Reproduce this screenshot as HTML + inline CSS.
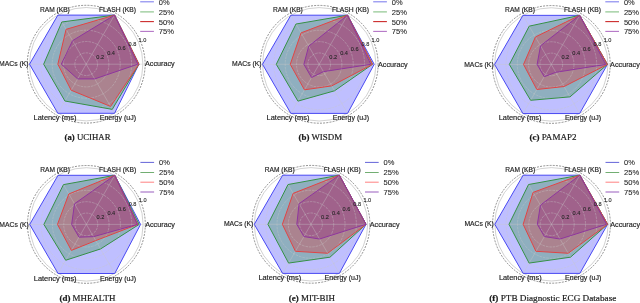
<!DOCTYPE html>
<html><head><meta charset="utf-8"><style>
html,body{margin:0;padding:0;background:#fff;width:640px;height:303px;overflow:hidden}
svg{display:block;will-change:transform}
.al{font-family:"Liberation Sans",sans-serif;font-size:7px;fill:#262626;stroke:#262626;stroke-width:0.18}
.rt{font-family:"Liberation Sans",sans-serif;font-size:5.6px;fill:#262626;text-anchor:middle;stroke:#262626;stroke-width:0.1}
.lg{font-family:"Liberation Sans",sans-serif;font-size:7.3px;fill:#262626;stroke:#262626;stroke-width:0.08}
.cap{font-family:"Liberation Serif",serif;font-size:9.2px;fill:#1a1a1a;stroke:#1a1a1a;stroke-width:0.2}
</style></head><body>
<svg width="640" height="303" viewBox="0 0 640 303">
<polygon points="138.93,64.2 114.55,15.1 57.85,15.1 29.5,64.2 57.85,113.3 114.55,113.3" fill="#0000ff" fill-opacity="0.25" stroke="none"/>
<polygon points="138.93,64.2 114.55,15.1 61.82,21.97 43.67,64.2 64.94,101.03 112.28,109.38" fill="#008000" fill-opacity="0.25" stroke="none"/>
<polygon points="138.93,64.2 114.55,15.1 66.07,29.34 57.85,64.2 71.17,90.22 110.58,106.43" fill="#ff0000" fill-opacity="0.25" stroke="none"/>
<polygon points="137.8,64.2 114.55,15.1 72.59,40.63 61.25,64.2 77.69,78.93 94.71,78.93" fill="#800080" fill-opacity="0.25" stroke="none"/>
<circle cx="86.2" cy="64.2" r="11.34" fill="none" stroke="#c8c8c8" stroke-opacity="0.55" stroke-width="0.7" stroke-dasharray="2.6 0.9"/>
<circle cx="86.2" cy="64.2" r="22.68" fill="none" stroke="#c8c8c8" stroke-opacity="0.55" stroke-width="0.7" stroke-dasharray="2.6 0.9"/>
<circle cx="86.2" cy="64.2" r="34.02" fill="none" stroke="#c8c8c8" stroke-opacity="0.55" stroke-width="0.7" stroke-dasharray="2.6 0.9"/>
<circle cx="86.2" cy="64.2" r="45.36" fill="none" stroke="#c8c8c8" stroke-opacity="0.55" stroke-width="0.7" stroke-dasharray="2.6 0.9"/>
<line x1="86.2" y1="64.2" x2="142.9" y2="64.2" stroke="#c8c8c8" stroke-opacity="0.55" stroke-width="0.7"/>
<line x1="86.2" y1="64.2" x2="114.55" y2="15.1" stroke="#c8c8c8" stroke-opacity="0.55" stroke-width="0.7"/>
<line x1="86.2" y1="64.2" x2="57.85" y2="15.1" stroke="#c8c8c8" stroke-opacity="0.55" stroke-width="0.7"/>
<line x1="86.2" y1="64.2" x2="29.5" y2="64.2" stroke="#c8c8c8" stroke-opacity="0.55" stroke-width="0.7"/>
<line x1="86.2" y1="64.2" x2="57.85" y2="113.3" stroke="#c8c8c8" stroke-opacity="0.55" stroke-width="0.7"/>
<line x1="86.2" y1="64.2" x2="114.55" y2="113.3" stroke="#c8c8c8" stroke-opacity="0.55" stroke-width="0.7"/>
<circle cx="86.2" cy="64.2" r="56.7" fill="none" stroke="#b4b4b4" stroke-width="0.6"/>
<circle cx="86.2" cy="64.2" r="58.9" fill="none" stroke="#4a4a4a" stroke-width="0.6" stroke-dasharray="2 1.2"/>
<polygon points="138.93,64.2 114.55,15.1 57.85,15.1 29.5,64.2 57.85,113.3 114.55,113.3" fill="none" stroke="#4848f2" stroke-width="1"/>
<polygon points="138.93,64.2 114.55,15.1 61.82,21.97 43.67,64.2 64.94,101.03 112.28,109.38" fill="none" stroke="#359045" stroke-width="1"/>
<polygon points="138.93,64.2 114.55,15.1 66.07,29.34 57.85,64.2 71.17,90.22 110.58,106.43" fill="none" stroke="#e04444" stroke-width="1"/>
<polygon points="137.8,64.2 114.55,15.1 72.59,40.63 61.25,64.2 77.69,78.93 94.71,78.93" fill="none" stroke="#8e359e" stroke-width="1"/>
<text x="100.2" y="58.9" class="rt">0.2</text>
<text x="111.1" y="54.6" class="rt">0.4</text>
<text x="121.7" y="50.4" class="rt">0.6</text>
<text x="132.4" y="46" class="rt">0.8</text>
<text x="142.5" y="41.8" class="rt">1.0</text>
<text x="54.9" y="11.6" class="al" text-anchor="middle" textLength="29.8" lengthAdjust="spacingAndGlyphs">RAM (KB)</text>
<text x="117.45" y="11.6" class="al" text-anchor="middle" textLength="37.1" lengthAdjust="spacingAndGlyphs">FLASH (KB)</text>
<text x="28.6" y="66.3" class="al" text-anchor="end" textLength="29.5" lengthAdjust="spacingAndGlyphs">MACs (K)</text>
<text x="145" y="66.4" class="al" textLength="29.7" lengthAdjust="spacingAndGlyphs">Accuracy</text>
<text x="55" y="119.8" class="al" text-anchor="middle" textLength="42.8" lengthAdjust="spacingAndGlyphs">Latency (ms)</text>
<text x="117.9" y="119.8" class="al" text-anchor="middle" textLength="36.2" lengthAdjust="spacingAndGlyphs">Energy (uJ)</text>
<line x1="140.2" y1="1.8" x2="153.9" y2="1.8" stroke="#8282ee" stroke-width="1.1"/>
<text x="158.8" y="4.8" class="lg" textLength="10.8" lengthAdjust="spacingAndGlyphs">0%</text>
<line x1="140.2" y1="11.9" x2="153.9" y2="11.9" stroke="#84c084" stroke-width="1.1"/>
<text x="158.8" y="14.9" class="lg" textLength="15.2" lengthAdjust="spacingAndGlyphs">25%</text>
<line x1="140.2" y1="21.6" x2="153.9" y2="21.6" stroke="#cc2a2a" stroke-width="1.1"/>
<text x="158.8" y="24.6" class="lg" textLength="15.2" lengthAdjust="spacingAndGlyphs">50%</text>
<line x1="140.2" y1="31.4" x2="153.9" y2="31.4" stroke="#b474c6" stroke-width="1.1"/>
<text x="158.8" y="34.4" class="lg" textLength="15.2" lengthAdjust="spacingAndGlyphs">75%</text>
<text x="64.5" y="140.1" class="cap" textLength="46" lengthAdjust="spacingAndGlyphs"><tspan font-weight="bold">(a)</tspan> UCIHAR</text>
<polygon points="374.2,64.3 347.55,15.2 290.85,15.2 262.5,64.3 290.85,113.4 347.55,113.4" fill="#0000ff" fill-opacity="0.25" stroke="none"/>
<polygon points="372.5,64.3 347.55,15.2 295.95,24.04 276.28,64.3 297.94,101.13 334.51,90.82" fill="#008000" fill-opacity="0.25" stroke="none"/>
<polygon points="372.5,64.3 347.55,15.2 301.06,32.87 290.28,64.3 304.46,89.83 331.67,85.91" fill="#ff0000" fill-opacity="0.25" stroke="none"/>
<polygon points="370.8,64.3 347.55,15.2 308.71,46.13 303.89,64.3 311.55,77.56 323.45,71.67" fill="#800080" fill-opacity="0.25" stroke="none"/>
<circle cx="319.2" cy="64.3" r="11.34" fill="none" stroke="#c8c8c8" stroke-opacity="0.55" stroke-width="0.7" stroke-dasharray="2.6 0.9"/>
<circle cx="319.2" cy="64.3" r="22.68" fill="none" stroke="#c8c8c8" stroke-opacity="0.55" stroke-width="0.7" stroke-dasharray="2.6 0.9"/>
<circle cx="319.2" cy="64.3" r="34.02" fill="none" stroke="#c8c8c8" stroke-opacity="0.55" stroke-width="0.7" stroke-dasharray="2.6 0.9"/>
<circle cx="319.2" cy="64.3" r="45.36" fill="none" stroke="#c8c8c8" stroke-opacity="0.55" stroke-width="0.7" stroke-dasharray="2.6 0.9"/>
<line x1="319.2" y1="64.3" x2="375.9" y2="64.3" stroke="#c8c8c8" stroke-opacity="0.55" stroke-width="0.7"/>
<line x1="319.2" y1="64.3" x2="347.55" y2="15.2" stroke="#c8c8c8" stroke-opacity="0.55" stroke-width="0.7"/>
<line x1="319.2" y1="64.3" x2="290.85" y2="15.2" stroke="#c8c8c8" stroke-opacity="0.55" stroke-width="0.7"/>
<line x1="319.2" y1="64.3" x2="262.5" y2="64.3" stroke="#c8c8c8" stroke-opacity="0.55" stroke-width="0.7"/>
<line x1="319.2" y1="64.3" x2="290.85" y2="113.4" stroke="#c8c8c8" stroke-opacity="0.55" stroke-width="0.7"/>
<line x1="319.2" y1="64.3" x2="347.55" y2="113.4" stroke="#c8c8c8" stroke-opacity="0.55" stroke-width="0.7"/>
<circle cx="319.2" cy="64.3" r="56.7" fill="none" stroke="#b4b4b4" stroke-width="0.6"/>
<circle cx="319.2" cy="64.3" r="58.9" fill="none" stroke="#4a4a4a" stroke-width="0.6" stroke-dasharray="2 1.2"/>
<polygon points="374.2,64.3 347.55,15.2 290.85,15.2 262.5,64.3 290.85,113.4 347.55,113.4" fill="none" stroke="#4848f2" stroke-width="1"/>
<polygon points="372.5,64.3 347.55,15.2 295.95,24.04 276.28,64.3 297.94,101.13 334.51,90.82" fill="none" stroke="#359045" stroke-width="1"/>
<polygon points="372.5,64.3 347.55,15.2 301.06,32.87 290.28,64.3 304.46,89.83 331.67,85.91" fill="none" stroke="#e04444" stroke-width="1"/>
<polygon points="370.8,64.3 347.55,15.2 308.71,46.13 303.89,64.3 311.55,77.56 323.45,71.67" fill="none" stroke="#8e359e" stroke-width="1"/>
<text x="333.2" y="59" class="rt">0.2</text>
<text x="344.1" y="54.7" class="rt">0.4</text>
<text x="354.7" y="50.5" class="rt">0.6</text>
<text x="365.4" y="46.1" class="rt">0.8</text>
<text x="375.5" y="41.9" class="rt">1.0</text>
<text x="287.9" y="11.7" class="al" text-anchor="middle" textLength="29.8" lengthAdjust="spacingAndGlyphs">RAM (KB)</text>
<text x="350.45" y="11.7" class="al" text-anchor="middle" textLength="37.1" lengthAdjust="spacingAndGlyphs">FLASH (KB)</text>
<text x="261.6" y="66.4" class="al" text-anchor="end" textLength="29.5" lengthAdjust="spacingAndGlyphs">MACs (K)</text>
<text x="378" y="66.5" class="al" textLength="29.7" lengthAdjust="spacingAndGlyphs">Accuracy</text>
<text x="288" y="119.9" class="al" text-anchor="middle" textLength="42.8" lengthAdjust="spacingAndGlyphs">Latency (ms)</text>
<text x="350.9" y="119.9" class="al" text-anchor="middle" textLength="36.2" lengthAdjust="spacingAndGlyphs">Energy (uJ)</text>
<line x1="373.2" y1="1.8" x2="386.9" y2="1.8" stroke="#8282ee" stroke-width="1.1"/>
<text x="391.8" y="4.8" class="lg" textLength="10.8" lengthAdjust="spacingAndGlyphs">0%</text>
<line x1="373.2" y1="11.9" x2="386.9" y2="11.9" stroke="#84c084" stroke-width="1.1"/>
<text x="391.8" y="14.9" class="lg" textLength="15.2" lengthAdjust="spacingAndGlyphs">25%</text>
<line x1="373.2" y1="21.6" x2="386.9" y2="21.6" stroke="#cc2a2a" stroke-width="1.1"/>
<text x="391.8" y="24.6" class="lg" textLength="15.2" lengthAdjust="spacingAndGlyphs">50%</text>
<line x1="373.2" y1="31.4" x2="386.9" y2="31.4" stroke="#b474c6" stroke-width="1.1"/>
<text x="391.8" y="34.4" class="lg" textLength="15.2" lengthAdjust="spacingAndGlyphs">75%</text>
<text x="298.5" y="140.1" class="cap" textLength="43.6" lengthAdjust="spacingAndGlyphs"><tspan font-weight="bold">(b)</tspan> WISDM</text>
<polygon points="607.43,64.45 579.65,15.35 522.95,15.35 494.6,64.45 522.95,113.55 579.65,113.55" fill="#0000ff" fill-opacity="0.25" stroke="none"/>
<polygon points="607.43,64.45 579.65,15.35 529.19,26.15 509.34,64.45 530.6,100.3 570.01,96.86" fill="#008000" fill-opacity="0.25" stroke="none"/>
<polygon points="607.43,64.45 579.65,15.35 535.42,36.95 523.52,64.45 536.84,89.49 564.06,86.55" fill="#ff0000" fill-opacity="0.25" stroke="none"/>
<polygon points="605.73,64.45 579.65,15.35 540.53,45.79 537.12,64.45 544.21,76.73 555.84,72.31" fill="#800080" fill-opacity="0.25" stroke="none"/>
<circle cx="551.3" cy="64.45" r="11.34" fill="none" stroke="#c8c8c8" stroke-opacity="0.55" stroke-width="0.7" stroke-dasharray="2.6 0.9"/>
<circle cx="551.3" cy="64.45" r="22.68" fill="none" stroke="#c8c8c8" stroke-opacity="0.55" stroke-width="0.7" stroke-dasharray="2.6 0.9"/>
<circle cx="551.3" cy="64.45" r="34.02" fill="none" stroke="#c8c8c8" stroke-opacity="0.55" stroke-width="0.7" stroke-dasharray="2.6 0.9"/>
<circle cx="551.3" cy="64.45" r="45.36" fill="none" stroke="#c8c8c8" stroke-opacity="0.55" stroke-width="0.7" stroke-dasharray="2.6 0.9"/>
<line x1="551.3" y1="64.45" x2="608" y2="64.45" stroke="#c8c8c8" stroke-opacity="0.55" stroke-width="0.7"/>
<line x1="551.3" y1="64.45" x2="579.65" y2="15.35" stroke="#c8c8c8" stroke-opacity="0.55" stroke-width="0.7"/>
<line x1="551.3" y1="64.45" x2="522.95" y2="15.35" stroke="#c8c8c8" stroke-opacity="0.55" stroke-width="0.7"/>
<line x1="551.3" y1="64.45" x2="494.6" y2="64.45" stroke="#c8c8c8" stroke-opacity="0.55" stroke-width="0.7"/>
<line x1="551.3" y1="64.45" x2="522.95" y2="113.55" stroke="#c8c8c8" stroke-opacity="0.55" stroke-width="0.7"/>
<line x1="551.3" y1="64.45" x2="579.65" y2="113.55" stroke="#c8c8c8" stroke-opacity="0.55" stroke-width="0.7"/>
<circle cx="551.3" cy="64.45" r="56.7" fill="none" stroke="#b4b4b4" stroke-width="0.6"/>
<circle cx="551.3" cy="64.45" r="58.9" fill="none" stroke="#4a4a4a" stroke-width="0.6" stroke-dasharray="2 1.2"/>
<polygon points="607.43,64.45 579.65,15.35 522.95,15.35 494.6,64.45 522.95,113.55 579.65,113.55" fill="none" stroke="#4848f2" stroke-width="1"/>
<polygon points="607.43,64.45 579.65,15.35 529.19,26.15 509.34,64.45 530.6,100.3 570.01,96.86" fill="none" stroke="#359045" stroke-width="1"/>
<polygon points="607.43,64.45 579.65,15.35 535.42,36.95 523.52,64.45 536.84,89.49 564.06,86.55" fill="none" stroke="#e04444" stroke-width="1"/>
<polygon points="605.73,64.45 579.65,15.35 540.53,45.79 537.12,64.45 544.21,76.73 555.84,72.31" fill="none" stroke="#8e359e" stroke-width="1"/>
<text x="565.3" y="59.15" class="rt">0.2</text>
<text x="576.2" y="54.85" class="rt">0.4</text>
<text x="586.8" y="50.65" class="rt">0.6</text>
<text x="597.5" y="46.25" class="rt">0.8</text>
<text x="607.6" y="42.05" class="rt">1.0</text>
<text x="520" y="11.85" class="al" text-anchor="middle" textLength="29.8" lengthAdjust="spacingAndGlyphs">RAM (KB)</text>
<text x="582.55" y="11.85" class="al" text-anchor="middle" textLength="37.1" lengthAdjust="spacingAndGlyphs">FLASH (KB)</text>
<text x="493.7" y="66.55" class="al" text-anchor="end" textLength="29.5" lengthAdjust="spacingAndGlyphs">MACs (K)</text>
<text x="610.1" y="66.65" class="al" textLength="29.7" lengthAdjust="spacingAndGlyphs">Accuracy</text>
<text x="520.1" y="120.05" class="al" text-anchor="middle" textLength="42.8" lengthAdjust="spacingAndGlyphs">Latency (ms)</text>
<text x="583" y="120.05" class="al" text-anchor="middle" textLength="36.2" lengthAdjust="spacingAndGlyphs">Energy (uJ)</text>
<line x1="605.3" y1="1.8" x2="619" y2="1.8" stroke="#8282ee" stroke-width="1.1"/>
<text x="623.9" y="4.8" class="lg" textLength="10.8" lengthAdjust="spacingAndGlyphs">0%</text>
<line x1="605.3" y1="11.9" x2="619" y2="11.9" stroke="#84c084" stroke-width="1.1"/>
<text x="623.9" y="14.9" class="lg" textLength="15.2" lengthAdjust="spacingAndGlyphs">25%</text>
<line x1="605.3" y1="21.6" x2="619" y2="21.6" stroke="#cc2a2a" stroke-width="1.1"/>
<text x="623.9" y="24.6" class="lg" textLength="15.2" lengthAdjust="spacingAndGlyphs">50%</text>
<line x1="605.3" y1="31.4" x2="619" y2="31.4" stroke="#b474c6" stroke-width="1.1"/>
<text x="623.9" y="34.4" class="lg" textLength="15.2" lengthAdjust="spacingAndGlyphs">75%</text>
<text x="529.4" y="140.1" class="cap" textLength="47.1" lengthAdjust="spacingAndGlyphs"><tspan font-weight="bold">(c)</tspan> PAMAP2</text>
<polygon points="140.55,224.4 114.75,175.3 58.05,175.3 29.7,224.4 58.05,273.5 114.75,273.5" fill="#0000ff" fill-opacity="0.25" stroke="none"/>
<polygon points="139.13,224.4 114.75,175.3 63.44,184.63 43.88,224.4 65.7,260.25 100.58,248.95" fill="#008000" fill-opacity="0.25" stroke="none"/>
<polygon points="137.71,224.4 114.75,175.3 68.82,193.96 57.48,224.4 71.37,250.42 95.76,240.6" fill="#ff0000" fill-opacity="0.25" stroke="none"/>
<polygon points="137.43,224.4 114.75,175.3 74.49,203.78 71.66,224.4 79.03,237.17 93.49,236.68" fill="#800080" fill-opacity="0.25" stroke="none"/>
<circle cx="86.4" cy="224.4" r="11.34" fill="none" stroke="#c8c8c8" stroke-opacity="0.55" stroke-width="0.7" stroke-dasharray="2.6 0.9"/>
<circle cx="86.4" cy="224.4" r="22.68" fill="none" stroke="#c8c8c8" stroke-opacity="0.55" stroke-width="0.7" stroke-dasharray="2.6 0.9"/>
<circle cx="86.4" cy="224.4" r="34.02" fill="none" stroke="#c8c8c8" stroke-opacity="0.55" stroke-width="0.7" stroke-dasharray="2.6 0.9"/>
<circle cx="86.4" cy="224.4" r="45.36" fill="none" stroke="#c8c8c8" stroke-opacity="0.55" stroke-width="0.7" stroke-dasharray="2.6 0.9"/>
<line x1="86.4" y1="224.4" x2="143.1" y2="224.4" stroke="#c8c8c8" stroke-opacity="0.55" stroke-width="0.7"/>
<line x1="86.4" y1="224.4" x2="114.75" y2="175.3" stroke="#c8c8c8" stroke-opacity="0.55" stroke-width="0.7"/>
<line x1="86.4" y1="224.4" x2="58.05" y2="175.3" stroke="#c8c8c8" stroke-opacity="0.55" stroke-width="0.7"/>
<line x1="86.4" y1="224.4" x2="29.7" y2="224.4" stroke="#c8c8c8" stroke-opacity="0.55" stroke-width="0.7"/>
<line x1="86.4" y1="224.4" x2="58.05" y2="273.5" stroke="#c8c8c8" stroke-opacity="0.55" stroke-width="0.7"/>
<line x1="86.4" y1="224.4" x2="114.75" y2="273.5" stroke="#c8c8c8" stroke-opacity="0.55" stroke-width="0.7"/>
<circle cx="86.4" cy="224.4" r="56.7" fill="none" stroke="#b4b4b4" stroke-width="0.6"/>
<circle cx="86.4" cy="224.4" r="58.9" fill="none" stroke="#4a4a4a" stroke-width="0.6" stroke-dasharray="2 1.2"/>
<polygon points="140.55,224.4 114.75,175.3 58.05,175.3 29.7,224.4 58.05,273.5 114.75,273.5" fill="none" stroke="#4848f2" stroke-width="1"/>
<polygon points="139.13,224.4 114.75,175.3 63.44,184.63 43.88,224.4 65.7,260.25 100.58,248.95" fill="none" stroke="#359045" stroke-width="1"/>
<polygon points="137.71,224.4 114.75,175.3 68.82,193.96 57.48,224.4 71.37,250.42 95.76,240.6" fill="none" stroke="#e04444" stroke-width="1"/>
<polygon points="137.43,224.4 114.75,175.3 74.49,203.78 71.66,224.4 79.03,237.17 93.49,236.68" fill="none" stroke="#8e359e" stroke-width="1"/>
<text x="100.4" y="219.1" class="rt">0.2</text>
<text x="111.3" y="214.8" class="rt">0.4</text>
<text x="121.9" y="210.6" class="rt">0.6</text>
<text x="132.6" y="206.2" class="rt">0.8</text>
<text x="142.7" y="202" class="rt">1.0</text>
<text x="55.1" y="171.8" class="al" text-anchor="middle" textLength="29.8" lengthAdjust="spacingAndGlyphs">RAM (KB)</text>
<text x="117.65" y="171.8" class="al" text-anchor="middle" textLength="37.1" lengthAdjust="spacingAndGlyphs">FLASH (KB)</text>
<text x="28.8" y="226.5" class="al" text-anchor="end" textLength="29.5" lengthAdjust="spacingAndGlyphs">MACs (K)</text>
<text x="145.2" y="226.6" class="al" textLength="29.7" lengthAdjust="spacingAndGlyphs">Accuracy</text>
<text x="55.2" y="280.5" class="al" text-anchor="middle" textLength="42.8" lengthAdjust="spacingAndGlyphs">Latency (ms)</text>
<text x="118.1" y="280.5" class="al" text-anchor="middle" textLength="36.2" lengthAdjust="spacingAndGlyphs">Energy (uJ)</text>
<line x1="140.4" y1="162.4" x2="154.1" y2="162.4" stroke="#5c5cd6" stroke-width="0.95"/>
<text x="159" y="165" class="lg" textLength="10.8" lengthAdjust="spacingAndGlyphs">0%</text>
<line x1="140.4" y1="172.5" x2="154.1" y2="172.5" stroke="#6aaa6a" stroke-width="0.95"/>
<text x="159" y="175.1" class="lg" textLength="15.2" lengthAdjust="spacingAndGlyphs">25%</text>
<line x1="140.4" y1="182.2" x2="154.1" y2="182.2" stroke="#ff7a7a" stroke-width="0.95"/>
<text x="159" y="184.8" class="lg" textLength="15.2" lengthAdjust="spacingAndGlyphs">50%</text>
<line x1="140.4" y1="192" x2="154.1" y2="192" stroke="#9455bb" stroke-width="0.95"/>
<text x="159" y="194.6" class="lg" textLength="15.2" lengthAdjust="spacingAndGlyphs">75%</text>
<text x="59.5" y="300.5" class="cap" textLength="55.9" lengthAdjust="spacingAndGlyphs"><tspan font-weight="bold">(d)</tspan> MHEALTH</text>
<polygon points="366,224.3 339.35,175.2 282.65,175.2 254.3,224.3 282.65,273.4 339.35,273.4" fill="#0000ff" fill-opacity="0.25" stroke="none"/>
<polygon points="366,224.3 339.35,175.2 288.04,184.53 267.91,224.3 288.6,263.09 329.99,257.2" fill="#008000" fill-opacity="0.25" stroke="none"/>
<polygon points="366,224.3 339.35,175.2 293.14,193.36 282.37,224.3 295.41,251.31 327.73,253.27" fill="#ff0000" fill-opacity="0.25" stroke="none"/>
<polygon points="366,224.3 339.35,175.2 299.09,203.68 296.82,224.3 303.91,236.58 319.5,239.03" fill="#800080" fill-opacity="0.25" stroke="none"/>
<circle cx="311" cy="224.3" r="11.34" fill="none" stroke="#c8c8c8" stroke-opacity="0.55" stroke-width="0.7" stroke-dasharray="2.6 0.9"/>
<circle cx="311" cy="224.3" r="22.68" fill="none" stroke="#c8c8c8" stroke-opacity="0.55" stroke-width="0.7" stroke-dasharray="2.6 0.9"/>
<circle cx="311" cy="224.3" r="34.02" fill="none" stroke="#c8c8c8" stroke-opacity="0.55" stroke-width="0.7" stroke-dasharray="2.6 0.9"/>
<circle cx="311" cy="224.3" r="45.36" fill="none" stroke="#c8c8c8" stroke-opacity="0.55" stroke-width="0.7" stroke-dasharray="2.6 0.9"/>
<line x1="311" y1="224.3" x2="367.7" y2="224.3" stroke="#c8c8c8" stroke-opacity="0.55" stroke-width="0.7"/>
<line x1="311" y1="224.3" x2="339.35" y2="175.2" stroke="#c8c8c8" stroke-opacity="0.55" stroke-width="0.7"/>
<line x1="311" y1="224.3" x2="282.65" y2="175.2" stroke="#c8c8c8" stroke-opacity="0.55" stroke-width="0.7"/>
<line x1="311" y1="224.3" x2="254.3" y2="224.3" stroke="#c8c8c8" stroke-opacity="0.55" stroke-width="0.7"/>
<line x1="311" y1="224.3" x2="282.65" y2="273.4" stroke="#c8c8c8" stroke-opacity="0.55" stroke-width="0.7"/>
<line x1="311" y1="224.3" x2="339.35" y2="273.4" stroke="#c8c8c8" stroke-opacity="0.55" stroke-width="0.7"/>
<circle cx="311" cy="224.3" r="56.7" fill="none" stroke="#b4b4b4" stroke-width="0.6"/>
<circle cx="311" cy="224.3" r="58.9" fill="none" stroke="#4a4a4a" stroke-width="0.6" stroke-dasharray="2 1.2"/>
<polygon points="366,224.3 339.35,175.2 282.65,175.2 254.3,224.3 282.65,273.4 339.35,273.4" fill="none" stroke="#4848f2" stroke-width="1"/>
<polygon points="366,224.3 339.35,175.2 288.04,184.53 267.91,224.3 288.6,263.09 329.99,257.2" fill="none" stroke="#359045" stroke-width="1"/>
<polygon points="366,224.3 339.35,175.2 293.14,193.36 282.37,224.3 295.41,251.31 327.73,253.27" fill="none" stroke="#e04444" stroke-width="1"/>
<polygon points="366,224.3 339.35,175.2 299.09,203.68 296.82,224.3 303.91,236.58 319.5,239.03" fill="none" stroke="#8e359e" stroke-width="1"/>
<text x="325" y="219" class="rt">0.2</text>
<text x="335.9" y="214.7" class="rt">0.4</text>
<text x="346.5" y="210.5" class="rt">0.6</text>
<text x="357.2" y="206.1" class="rt">0.8</text>
<text x="367.3" y="201.9" class="rt">1.0</text>
<text x="279.7" y="171.7" class="al" text-anchor="middle" textLength="29.8" lengthAdjust="spacingAndGlyphs">RAM (KB)</text>
<text x="342.25" y="171.7" class="al" text-anchor="middle" textLength="37.1" lengthAdjust="spacingAndGlyphs">FLASH (KB)</text>
<text x="253.4" y="226.4" class="al" text-anchor="end" textLength="29.5" lengthAdjust="spacingAndGlyphs">MACs (K)</text>
<text x="369.8" y="226.5" class="al" textLength="29.7" lengthAdjust="spacingAndGlyphs">Accuracy</text>
<text x="279.8" y="280.4" class="al" text-anchor="middle" textLength="42.8" lengthAdjust="spacingAndGlyphs">Latency (ms)</text>
<text x="342.7" y="280.4" class="al" text-anchor="middle" textLength="36.2" lengthAdjust="spacingAndGlyphs">Energy (uJ)</text>
<line x1="365" y1="162.4" x2="378.7" y2="162.4" stroke="#5c5cd6" stroke-width="0.95"/>
<text x="383.6" y="165" class="lg" textLength="10.8" lengthAdjust="spacingAndGlyphs">0%</text>
<line x1="365" y1="172.5" x2="378.7" y2="172.5" stroke="#6aaa6a" stroke-width="0.95"/>
<text x="383.6" y="175.1" class="lg" textLength="15.2" lengthAdjust="spacingAndGlyphs">25%</text>
<line x1="365" y1="182.2" x2="378.7" y2="182.2" stroke="#ff7a7a" stroke-width="0.95"/>
<text x="383.6" y="184.8" class="lg" textLength="15.2" lengthAdjust="spacingAndGlyphs">50%</text>
<line x1="365" y1="192" x2="378.7" y2="192" stroke="#9455bb" stroke-width="0.95"/>
<text x="383.6" y="194.6" class="lg" textLength="15.2" lengthAdjust="spacingAndGlyphs">75%</text>
<text x="288.8" y="300.5" class="cap" textLength="46.1" lengthAdjust="spacingAndGlyphs"><tspan font-weight="bold">(e)</tspan> MIT-BIH</text>
<polygon points="607.63,224.3 579.85,175.2 523.15,175.2 494.8,224.3 523.15,273.4 579.85,273.4" fill="#0000ff" fill-opacity="0.25" stroke="none"/>
<polygon points="607.63,224.3 579.85,175.2 528.54,184.53 508.98,224.3 529.1,263.09 570.49,257.2" fill="#008000" fill-opacity="0.25" stroke="none"/>
<polygon points="607.63,224.3 579.85,175.2 533.07,192.38 523.15,224.3 535.91,251.31 568.23,253.27" fill="#ff0000" fill-opacity="0.25" stroke="none"/>
<polygon points="606.5,224.3 579.85,175.2 540.44,205.15 537.33,224.3 544.41,236.58 560,239.03" fill="#800080" fill-opacity="0.25" stroke="none"/>
<circle cx="551.5" cy="224.3" r="11.34" fill="none" stroke="#c8c8c8" stroke-opacity="0.55" stroke-width="0.7" stroke-dasharray="2.6 0.9"/>
<circle cx="551.5" cy="224.3" r="22.68" fill="none" stroke="#c8c8c8" stroke-opacity="0.55" stroke-width="0.7" stroke-dasharray="2.6 0.9"/>
<circle cx="551.5" cy="224.3" r="34.02" fill="none" stroke="#c8c8c8" stroke-opacity="0.55" stroke-width="0.7" stroke-dasharray="2.6 0.9"/>
<circle cx="551.5" cy="224.3" r="45.36" fill="none" stroke="#c8c8c8" stroke-opacity="0.55" stroke-width="0.7" stroke-dasharray="2.6 0.9"/>
<line x1="551.5" y1="224.3" x2="608.2" y2="224.3" stroke="#c8c8c8" stroke-opacity="0.55" stroke-width="0.7"/>
<line x1="551.5" y1="224.3" x2="579.85" y2="175.2" stroke="#c8c8c8" stroke-opacity="0.55" stroke-width="0.7"/>
<line x1="551.5" y1="224.3" x2="523.15" y2="175.2" stroke="#c8c8c8" stroke-opacity="0.55" stroke-width="0.7"/>
<line x1="551.5" y1="224.3" x2="494.8" y2="224.3" stroke="#c8c8c8" stroke-opacity="0.55" stroke-width="0.7"/>
<line x1="551.5" y1="224.3" x2="523.15" y2="273.4" stroke="#c8c8c8" stroke-opacity="0.55" stroke-width="0.7"/>
<line x1="551.5" y1="224.3" x2="579.85" y2="273.4" stroke="#c8c8c8" stroke-opacity="0.55" stroke-width="0.7"/>
<circle cx="551.5" cy="224.3" r="56.7" fill="none" stroke="#b4b4b4" stroke-width="0.6"/>
<circle cx="551.5" cy="224.3" r="58.9" fill="none" stroke="#4a4a4a" stroke-width="0.6" stroke-dasharray="2 1.2"/>
<polygon points="607.63,224.3 579.85,175.2 523.15,175.2 494.8,224.3 523.15,273.4 579.85,273.4" fill="none" stroke="#4848f2" stroke-width="1"/>
<polygon points="607.63,224.3 579.85,175.2 528.54,184.53 508.98,224.3 529.1,263.09 570.49,257.2" fill="none" stroke="#359045" stroke-width="1"/>
<polygon points="607.63,224.3 579.85,175.2 533.07,192.38 523.15,224.3 535.91,251.31 568.23,253.27" fill="none" stroke="#e04444" stroke-width="1"/>
<polygon points="606.5,224.3 579.85,175.2 540.44,205.15 537.33,224.3 544.41,236.58 560,239.03" fill="none" stroke="#8e359e" stroke-width="1"/>
<text x="565.5" y="219" class="rt">0.2</text>
<text x="576.4" y="214.7" class="rt">0.4</text>
<text x="587" y="210.5" class="rt">0.6</text>
<text x="597.7" y="206.1" class="rt">0.8</text>
<text x="607.8" y="201.9" class="rt">1.0</text>
<text x="520.2" y="171.7" class="al" text-anchor="middle" textLength="29.8" lengthAdjust="spacingAndGlyphs">RAM (KB)</text>
<text x="582.75" y="171.7" class="al" text-anchor="middle" textLength="37.1" lengthAdjust="spacingAndGlyphs">FLASH (KB)</text>
<text x="493.9" y="226.4" class="al" text-anchor="end" textLength="29.5" lengthAdjust="spacingAndGlyphs">MACs (K)</text>
<text x="610.3" y="226.5" class="al" textLength="29.7" lengthAdjust="spacingAndGlyphs">Accuracy</text>
<text x="520.3" y="280.4" class="al" text-anchor="middle" textLength="42.8" lengthAdjust="spacingAndGlyphs">Latency (ms)</text>
<text x="583.2" y="280.4" class="al" text-anchor="middle" textLength="36.2" lengthAdjust="spacingAndGlyphs">Energy (uJ)</text>
<line x1="605.5" y1="162.4" x2="619.2" y2="162.4" stroke="#5c5cd6" stroke-width="0.95"/>
<text x="624.1" y="165" class="lg" textLength="10.8" lengthAdjust="spacingAndGlyphs">0%</text>
<line x1="605.5" y1="172.5" x2="619.2" y2="172.5" stroke="#6aaa6a" stroke-width="0.95"/>
<text x="624.1" y="175.1" class="lg" textLength="15.2" lengthAdjust="spacingAndGlyphs">25%</text>
<line x1="605.5" y1="182.2" x2="619.2" y2="182.2" stroke="#ff7a7a" stroke-width="0.95"/>
<text x="624.1" y="184.8" class="lg" textLength="15.2" lengthAdjust="spacingAndGlyphs">50%</text>
<line x1="605.5" y1="192" x2="619.2" y2="192" stroke="#9455bb" stroke-width="0.95"/>
<text x="624.1" y="194.6" class="lg" textLength="15.2" lengthAdjust="spacingAndGlyphs">75%</text>
<text x="489.2" y="300.5" class="cap" textLength="127.1" lengthAdjust="spacingAndGlyphs"><tspan font-weight="bold">(f)</tspan> PTB Diagnostic ECG Database</text>
</svg>
</body></html>
